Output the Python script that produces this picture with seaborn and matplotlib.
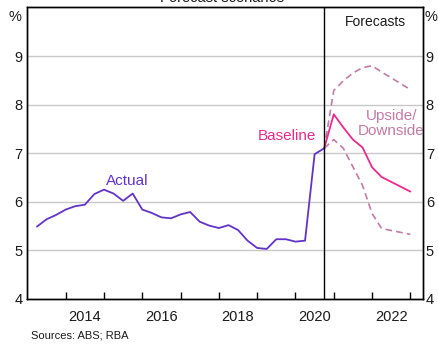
import numpy as np
import pandas as pd
import matplotlib
matplotlib.use("Agg")
import matplotlib.pyplot as plt
import seaborn as sns

# ---- data ----
actual_x = [2013.25 + 0.25 * i for i in range(31)]
actual_y = [5.49, 5.64, 5.73, 5.84, 5.91, 5.94, 6.16, 6.25, 6.17, 6.02,
            6.17, 5.84, 5.77, 5.68, 5.66, 5.74, 5.79, 5.59, 5.51, 5.46,
            5.52, 5.42, 5.20, 5.05, 5.03, 5.23, 5.23, 5.18, 5.20, 6.98, 7.10]
fc_x = [2020.75, 2021.0, 2021.25, 2021.5, 2021.75, 2022.0, 2022.25, 2023.0]
baseline_y = [7.10, 7.80, 7.53, 7.28, 7.12, 6.71, 6.51, 6.21]
upside_y = [7.10, 8.29, 8.49, 8.65, 8.76, 8.80, 8.67, 8.31]
downside_y = [7.10, 7.28, 7.10, 6.72, 6.34, 5.76, 5.45, 5.33]
year_ticks = list(range(2014, 2024))
year_labels = ["2014", "2016", "2018", "2020", "2022"]
y_ticks = [4, 5, 6, 7, 8, 9]

sns.set_theme(style="white")
plt.rcParams['font.family'] = ['Liberation Sans', 'DejaVu Sans']

PURPLE = "#6233c8"
PINK = "#ea2a8c"
MAUVE = "#c47aa6"

fig = plt.figure(figsize=(4.39, 3.44), dpi=100)
ax = fig.add_axes([27/439, 1 - 299/344, (423 - 27)/439, (299 - 7.4)/344])

df_a = pd.DataFrame({"x": actual_x, "y": actual_y})
df_b = pd.DataFrame({"x": fc_x, "y": baseline_y})
df_u = pd.DataFrame({"x": fc_x, "y": upside_y})
df_d = pd.DataFrame({"x": fc_x, "y": downside_y})

for y in [5, 6, 7, 8, 9]:
    ax.axhline(y, color="#c8c8c8", lw=1.0, zorder=0)

sns.lineplot(data=df_u, x="x", y="y", ax=ax, color=MAUVE, lw=1.2,
             linestyle=(0, (4, 2.5)), estimator=None, sort=False)
sns.lineplot(data=df_d, x="x", y="y", ax=ax, color=MAUVE, lw=1.2,
             linestyle=(0, (4, 2.5)), estimator=None, sort=False)
sns.lineplot(data=df_b, x="x", y="y", ax=ax, color=PINK, lw=1.3,
             estimator=None, sort=False)
sns.lineplot(data=df_a, x="x", y="y", ax=ax, color=PURPLE, lw=1.3,
             estimator=None, sort=False)

ax.axvline(2020.75, color="black", lw=1.0)

ax.set_xlim(2012.99, 2023.33)
ax.set_ylim(4, 10)
ax.set_xlabel("")
ax.set_ylabel("")

ax.set_xticks(year_ticks)
ax.set_xticklabels([])
ax.set_xticks([int(l) + 0.5 for l in year_labels], minor=True)
ax.set_xticklabels(year_labels, minor=True)
ax.tick_params(axis="x", which="major", direction="in", length=5, width=1,
               color="black", bottom=True)
ax.tick_params(axis="x", which="minor", length=0, pad=8, labelsize=10.5,
               labelcolor="#1a1a1a")

ax.set_yticks(y_ticks)
ax.tick_params(axis="y", length=0, pad=3, labelsize=10.5, labelcolor="#1a1a1a")

ax2 = ax.twinx()
ax2.set_ylim(4, 10)
ax2.set_yticks(y_ticks)
ax2.tick_params(axis="y", length=0, pad=2, labelsize=10.5, labelcolor="#1a1a1a")
ax2.grid(False)

for a in (ax, ax2):
    for s in a.spines.values():
        s.set_color("black")
        s.set_linewidth(1.0)

# texts
fig.text(15/439, 1 - 17/344, "%", ha="center", va="center", fontsize=10.5, color="#1a1a1a")
fig.text(431/439, 1 - 17/344, "%", ha="center", va="center", fontsize=10.5, color="#1a1a1a")
# title partially cut off at top, as in the reference
fig.text(222/439, 1 - 5.5/344, "Forecast scenarios", ha="center", va="bottom",
         fontsize=10.5, color="#1a1a1a")
ax.text(2022.08, 9.7, "Forecasts", ha="center", va="center", fontsize=10, color="#1a1a1a")
ax.text(2015.6, 6.43, "Actual", ha="center", va="center", fontsize=11, color=PURPLE)
ax.text(2019.79, 7.36, "Baseline", ha="center", va="center", fontsize=11, color=PINK)
ax.text(2022.5, 7.61, "Upside/\nDownside", ha="center", va="center", fontsize=11,
        color=MAUVE, linespacing=1.05)
fig.text(31/439, 1 - 336/344, "Sources: ABS; RBA", ha="left", va="center",
         fontsize=8, color="#1a1a1a")

fig.savefig("out.png", dpi=100)
